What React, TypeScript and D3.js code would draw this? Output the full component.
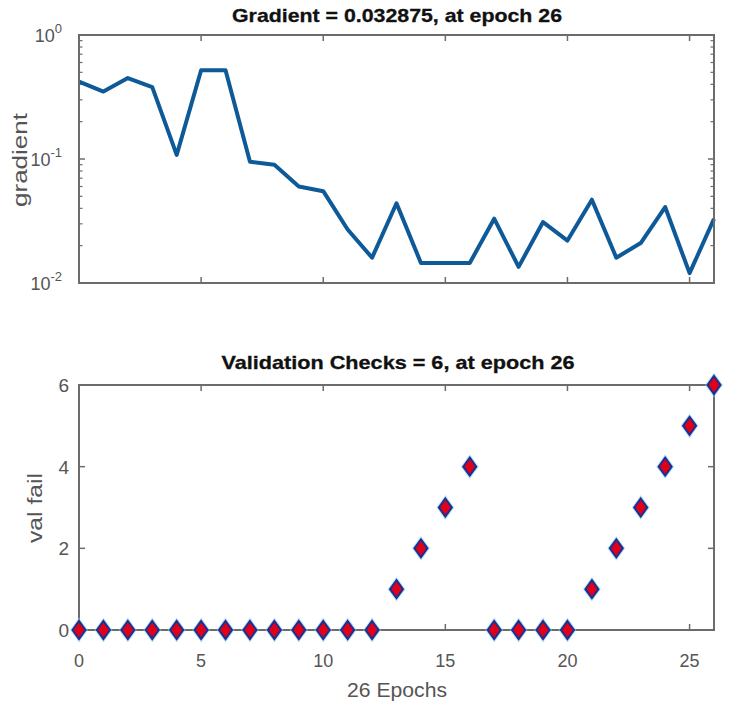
import React from "react";
import * as d3 from "d3";

const epochs: number[] = d3.range(0, 27);
const gradientValues: number[] = [
  0.42, 0.35, 0.45, 0.38, 0.108, 0.52, 0.52, 0.095, 0.09, 0.06, 0.055, 0.027, 0.016, 0.044,
  0.0145, 0.0145, 0.0145, 0.033, 0.0135, 0.031, 0.022, 0.047, 0.016, 0.021, 0.041, 0.012, 0.032875,
];
const valFailValues: number[] = [
  0, 0, 0, 0, 0, 0, 0, 0, 0, 0, 0, 0, 0, 1, 2, 3, 4, 0, 0, 0, 0, 1, 2, 3, 4, 5, 6,
];
const xTicks: number[] = [0, 5, 10, 15, 20, 25];
const logMajorTicks: number[] = [1, 0.1, 0.01];
const logExponents: string[] = ["0", "-1", "-2"];
const valTicks: number[] = [0, 2, 4, 6];

const topTitle = "Gradient = 0.032875, at epoch 26";
const bottomTitle = "Validation Checks = 6, at epoch 26";
const topYLabel = "gradient";
const bottomYLabel = "val fail";
const xLabel = "26 Epochs";

const W = 743;
const H = 712;
const L = 79;
const R = 714;
const AX = "#6c6c6c";
const TXT = "#555";
const FONT = "'Liberation Sans', Arial, Helvetica, sans-serif";

export default function App() {
  const x = d3.scaleLinear().domain([0, 26]).range([L, R]);
  const yTop = d3.scaleLog().domain([0.01, 1]).range([283, 35]);
  const yBot = d3.scaleLinear().domain([0, 6]).range([630, 385]);

  const line = d3
    .line<number>()
    .x((_, i) => x(epochs[i]))
    .y((d) => yTop(d));

  const minorTicks: number[] = [];
  [0.01, 0.1].forEach((b) => {
    for (let k = 2; k <= 9; k++) minorTicks.push(b * k);
  });

  const diamond = (cx: number, cy: number) =>
    `M${cx},${cy - 9} L${cx + 6.5},${cy} L${cx},${cy + 9} L${cx - 6.5},${cy} Z`;

  return (
    <svg
      width={W}
      height={H}
      style={{ position: "absolute", left: 0, top: 0, background: "#fff" }}
      fontFamily={FONT}
    >
      {/* ===== Top plot ===== */}
      <text x={397} y={22} textAnchor="middle" fontWeight="bold" fontSize={19} fill="#111"
        stroke="#111" strokeWidth={0.3} textLength={330} lengthAdjust="spacingAndGlyphs">
        {topTitle}
      </text>
      {xTicks.map((t) => (
        <g key={"tx" + t} stroke={AX} strokeWidth={1.5}>
          <line x1={x(t)} x2={x(t)} y1={35} y2={41} />
          <line x1={x(t)} x2={x(t)} y1={283} y2={277} />
        </g>
      ))}
      {logMajorTicks.map((t) => (
        <g key={"ly" + t} stroke={AX} strokeWidth={1.5}>
          <line x1={L} x2={L + 6} y1={yTop(t)} y2={yTop(t)} />
          <line x1={R} x2={R - 6} y1={yTop(t)} y2={yTop(t)} />
        </g>
      ))}
      {minorTicks.map((t, i) => (
        <g key={"mn" + i} stroke={AX} strokeWidth={1.2}>
          <line x1={L} x2={L + 3.5} y1={yTop(t)} y2={yTop(t)} />
          <line x1={R} x2={R - 3.5} y1={yTop(t)} y2={yTop(t)} />
        </g>
      ))}
      {logMajorTicks.map((t, i) => (
        <text key={"ll" + t} x={62} y={yTop(t) + 7} textAnchor="end" fontSize={18} fill={TXT}>
          10
          <tspan dy={-9} fontSize={13}>{logExponents[i]}</tspan>
        </text>
      ))}
      <path d={line(gradientValues) || ""} fill="none" stroke="#0e5a98" strokeWidth={4}
        strokeLinejoin="round" />
      <rect x={L} y={35} width={R - L} height={283 - 35} fill="none" stroke={AX} strokeWidth={2} />
      <text transform={`translate(27,160) rotate(-90)`} textAnchor="middle" fontSize={20} fill={TXT}
        textLength={94} lengthAdjust="spacingAndGlyphs">
        {topYLabel}
      </text>

      {/* ===== Bottom plot ===== */}
      <text x={398} y={369} textAnchor="middle" fontWeight="bold" fontSize={19} fill="#111"
        stroke="#111" strokeWidth={0.3} textLength={353} lengthAdjust="spacingAndGlyphs">
        {bottomTitle}
      </text>
      {xTicks.map((t) => (
        <g key={"bx" + t}>
          <line x1={x(t)} x2={x(t)} y1={385} y2={391} stroke={AX} strokeWidth={1.5} />
          <line x1={x(t)} x2={x(t)} y1={630} y2={624} stroke={AX} strokeWidth={1.5} />
          <text x={x(t)} y={667} textAnchor="middle" fontSize={18} fill={TXT}>{t}</text>
        </g>
      ))}
      {valTicks.map((t) => (
        <g key={"by" + t}>
          <line x1={L} x2={L + 6} y1={yBot(t)} y2={yBot(t)} stroke={AX} strokeWidth={1.5} />
          <line x1={R} x2={R - 6} y1={yBot(t)} y2={yBot(t)} stroke={AX} strokeWidth={1.5} />
          <text x={69} y={yBot(t) + 7} textAnchor="end" fontSize={19} fill={TXT}>{t}</text>
        </g>
      ))}
      <rect x={L} y={385} width={R - L} height={630 - 385} fill="none" stroke={AX} strokeWidth={2} />
      {valFailValues.map((v, i) => (
        <g key={"m" + i}>
          <path d={diamond(x(epochs[i]), yBot(v))} fill="none" stroke="#7fd0ee" strokeWidth={4}
            strokeOpacity={0.6} />
          <path d={diamond(x(epochs[i]), yBot(v))} fill="#e0001a" stroke="#1f2d8f" strokeWidth={2} />
        </g>
      ))}
      <text transform={`translate(42,508) rotate(-90)`} textAnchor="middle" fontSize={20} fill={TXT}
        textLength={70} lengthAdjust="spacingAndGlyphs">
        {bottomYLabel}
      </text>
      <text x={397} y={697} textAnchor="middle" fontSize={20} fill={TXT}
        textLength={100} lengthAdjust="spacingAndGlyphs">
        {xLabel}
      </text>
    </svg>
  );
}
